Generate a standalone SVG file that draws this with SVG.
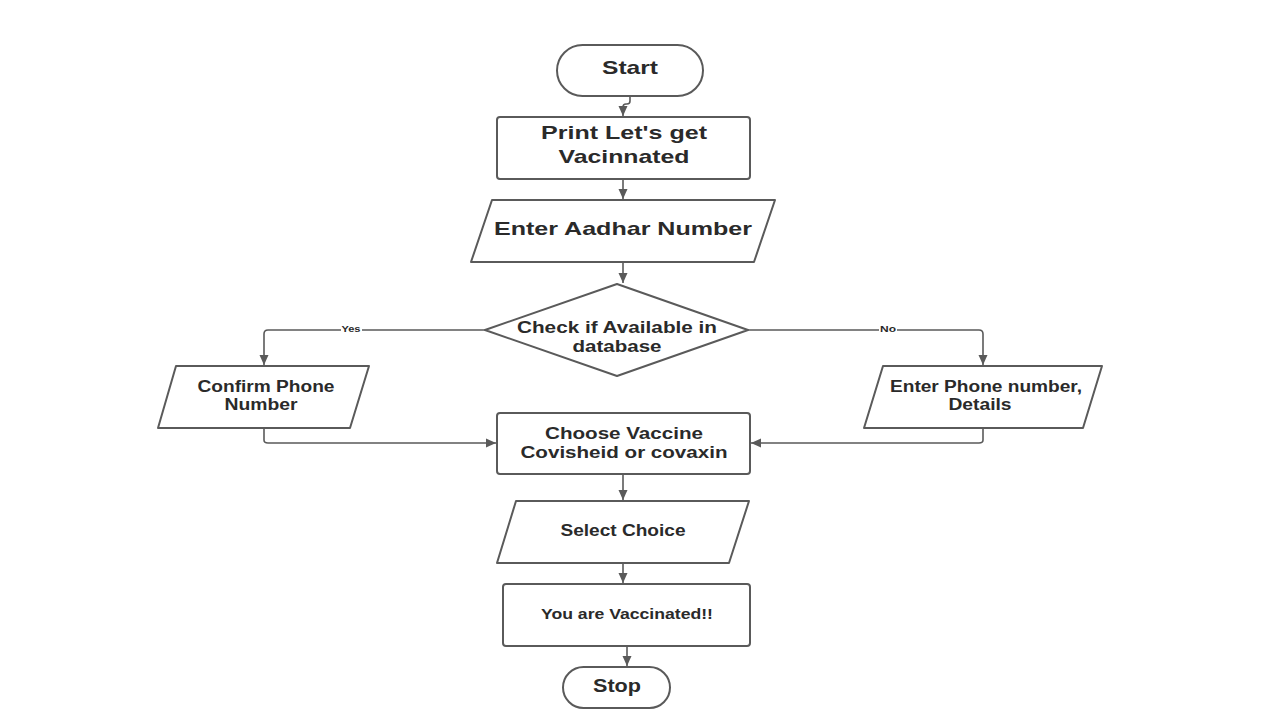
<svg xmlns="http://www.w3.org/2000/svg" width="1280" height="720" viewBox="0 0 1280 720">
<defs>
<style>
.n{fill:#fff;stroke:#5a5a5a;stroke-width:2;stroke-linejoin:round}
.t{font-family:"Liberation Sans",Arial,sans-serif;font-weight:bold;fill:#2a2a2a;text-anchor:middle}
.c{fill:none;stroke:#5a5a5a;stroke-width:1.6}
.lb{font-family:"Liberation Sans",Arial,sans-serif;font-weight:bold;fill:#2a2a2a;text-anchor:middle;font-size:9px}
</style>
<marker id="ah" markerUnits="userSpaceOnUse" markerWidth="12" markerHeight="12" viewBox="0 0 12 12" refX="11" refY="6" orient="auto">
<path d="M1,1.5 L11,6 L1,10.5 Z" fill="#5a5a5a"/>
</marker>
</defs>
<rect width="1280" height="720" fill="#fff"/>
<g id="connectors">
<path class="c" d="M630,96 V101 Q630,104 627,104 H626 Q623,104 623,107 V116" marker-end="url(#ah)"/>
<path class="c" d="M623,179 V199" marker-end="url(#ah)"/>
<path class="c" d="M623,262 V283" marker-end="url(#ah)"/>
<path class="c" d="M485,330 H268 Q264,330 264,334 V365" marker-end="url(#ah)"/>
<path class="c" d="M748,330 H979 Q983,330 983,334 V365" marker-end="url(#ah)"/>
<path class="c" d="M264,428 V440 Q264,443 268,443 H496" marker-end="url(#ah)"/>
<path class="c" d="M983,428 V440 Q983,443 979,443 H751" marker-end="url(#ah)"/>
<path class="c" d="M623,474 V500" marker-end="url(#ah)"/>
<path class="c" d="M623,563 V583" marker-end="url(#ah)"/>
<path class="c" d="M627,646 V666" marker-end="url(#ah)"/>
<rect x="341" y="324" width="21" height="11" fill="#fff"/>
<text class="lb" x="351" y="332" textLength="19" lengthAdjust="spacingAndGlyphs">Yes</text>
<rect x="879" y="324" width="18" height="11" fill="#fff"/>
<text class="lb" x="888" y="332" textLength="16" lengthAdjust="spacingAndGlyphs">No</text>
</g>
<g id="start">
<rect class="n" x="557" y="45" width="146" height="51" rx="25.5"/>
<text class="t" x="630" y="74" font-size="19" textLength="56" lengthAdjust="spacingAndGlyphs">Start</text>
</g>
<g id="print">
<rect class="n" x="497" y="117" width="253" height="62" rx="3"/>
<text class="t" x="624" y="139" font-size="19" textLength="166" lengthAdjust="spacingAndGlyphs">Print Let's get</text>
<text class="t" x="624" y="163" font-size="19" textLength="131" lengthAdjust="spacingAndGlyphs">Vacinnated</text>
</g>
<g id="aadhar">
<path class="n" d="M492,200 H775 L754,262 H471 Z"/>
<text class="t" x="623" y="235" font-size="19" textLength="258" lengthAdjust="spacingAndGlyphs">Enter Aadhar Number</text>
</g>
<g id="check">
<path class="n" d="M617,284 L748,330 L617,376 L485,330 Z"/>
<text class="t" x="617" y="333" font-size="17" textLength="200" lengthAdjust="spacingAndGlyphs">Check if Available in</text>
<text class="t" x="617" y="352" font-size="17" textLength="89" lengthAdjust="spacingAndGlyphs">database</text>
</g>
<g id="confirm">
<path class="n" d="M176,366 H369 L350,428 H158 Z"/>
<text class="t" x="266" y="392" font-size="16" textLength="137" lengthAdjust="spacingAndGlyphs">Confirm Phone</text>
<text class="t" x="261" y="410" font-size="16" textLength="73" lengthAdjust="spacingAndGlyphs">Number</text>
</g>
<g id="enterphone">
<path class="n" d="M883,366 H1102 L1083,428 H864 Z"/>
<text class="t" x="986" y="392" font-size="16" textLength="192" lengthAdjust="spacingAndGlyphs">Enter Phone number,</text>
<text class="t" x="980" y="410" font-size="16" textLength="63" lengthAdjust="spacingAndGlyphs">Details</text>
</g>
<g id="choose">
<rect class="n" x="497" y="413" width="253" height="61" rx="3"/>
<text class="t" x="624" y="439" font-size="17" textLength="158" lengthAdjust="spacingAndGlyphs">Choose Vaccine</text>
<text class="t" x="624" y="458" font-size="17" textLength="207" lengthAdjust="spacingAndGlyphs">Covisheid or covaxin</text>
</g>
<g id="select">
<path class="n" d="M516,501 H749 L729,563 H497 Z"/>
<text class="t" x="623" y="536" font-size="16" textLength="125" lengthAdjust="spacingAndGlyphs">Select Choice</text>
</g>
<g id="vaccinated">
<rect class="n" x="503" y="584" width="247" height="62" rx="3"/>
<text class="t" x="627" y="619" font-size="15" textLength="172" lengthAdjust="spacingAndGlyphs">You are Vaccinated!!</text>
</g>
<g id="stop">
<rect class="n" x="563" y="667" width="107" height="41" rx="20.5"/>
<text class="t" x="617" y="692" font-size="18" textLength="48" lengthAdjust="spacingAndGlyphs">Stop</text>
</g>
</svg>
